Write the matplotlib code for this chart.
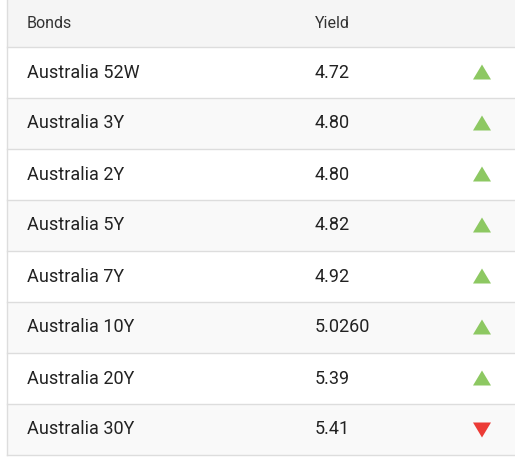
import matplotlib
matplotlib.use("Agg")
import matplotlib.pyplot as plt
from matplotlib.patches import Rectangle, Polygon

headers = ["Bonds", "Yield"]
bonds = ["Australia 52W", "Australia 3Y", "Australia 2Y", "Australia 5Y",
         "Australia 7Y", "Australia 10Y", "Australia 20Y", "Australia 30Y"]
yields = ["4.72", "4.80", "4.80", "4.82", "4.92", "5.0260", "5.39", "5.41"]
direction = ["up", "up", "up", "up", "up", "up", "up", "down"]

W, H = 515, 457
fig = plt.figure(figsize=(W/100, H/100), dpi=100)
ax = fig.add_axes([0, 0, 1, 1])
ax.set_xlim(0, W); ax.set_ylim(H, 0); ax.axis("off")

left, right = 7, 515
hh, rh = 47, 51
font = ["Roboto", "DejaVu Sans"]
ax.add_patch(Rectangle((left, 0), right-left, hh, fc="#f5f5f5", ec="none"))
ax.text(27, hh/2, headers[0], fontsize=11.5, va="center", color="#333333", family=font)
ax.text(315, hh/2, headers[1], fontsize=11.5, va="center", color="#333333", family=font)
ax.plot([left, right], [hh, hh], color="#dddddd", lw=1)
for i, (b, y, d) in enumerate(zip(bonds, yields, direction)):
    top = hh + i*rh
    bg = "#ffffff" if i % 2 == 0 else "#f9f9f9"
    ax.add_patch(Rectangle((left, top), right-left, rh, fc=bg, ec="none"))
    ax.plot([left, right], [top+rh, top+rh], color="#dddddd", lw=1)
    cy = top + rh/2
    ax.text(27, cy, b, fontsize=13, va="center", color="#222222", family=font)
    ax.text(315, cy, y, fontsize=13, va="center", color="#222222", family=font)
    cx = 482
    if d == "up":
        pts = [(cx-9, cy+7), (cx+9, cy+7), (cx, cy-8)]
        c = "#8dc862"
    else:
        pts = [(cx-9, cy-7), (cx+9, cy-7), (cx, cy+8)]
        c = "#ec3b36"
    ax.add_patch(Polygon(pts, closed=True, fc=c, ec="none"))
ax.plot([left, left], [0, hh+8*rh], color="#dddddd", lw=1)
fig.savefig("out.png", dpi=100)
